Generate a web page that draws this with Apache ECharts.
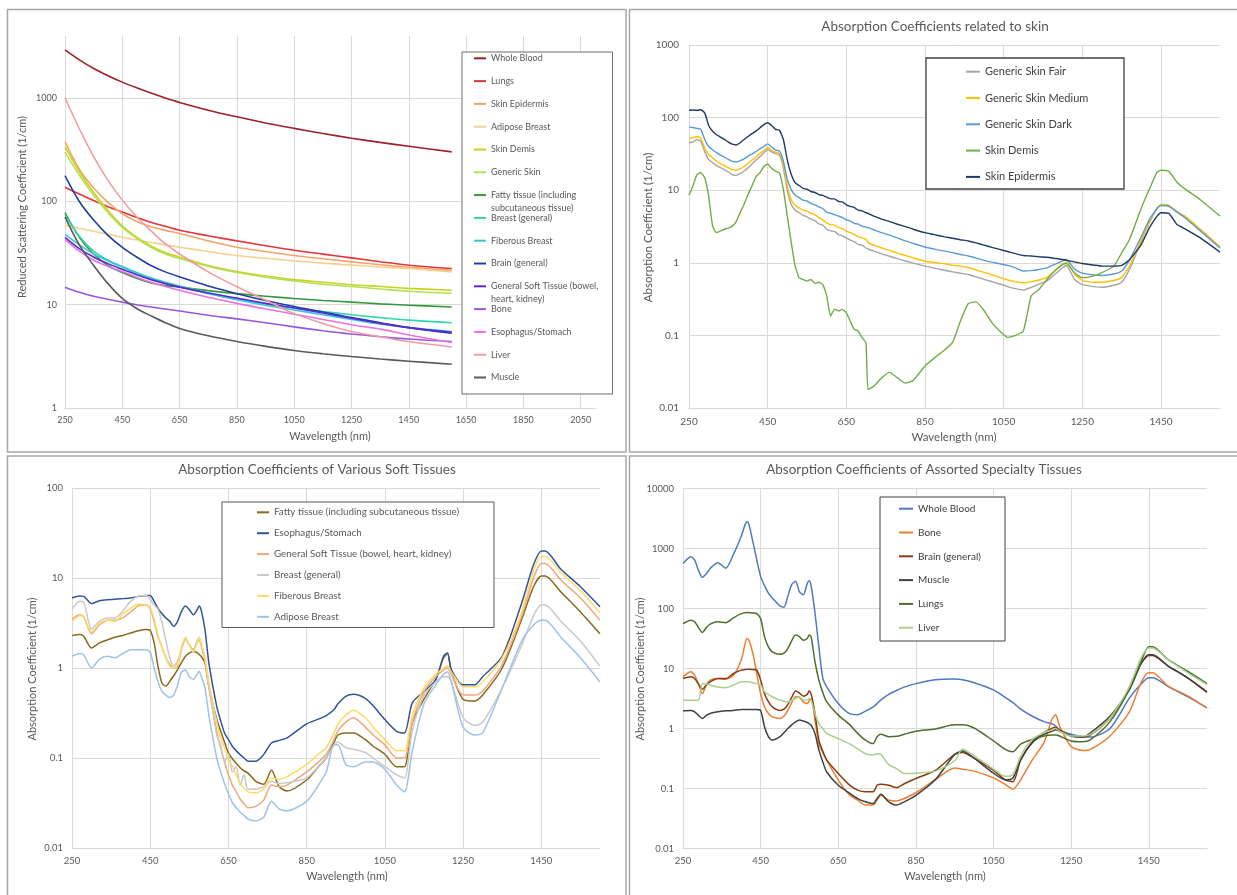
<!DOCTYPE html>
<html>
<head>
<meta charset="utf-8">
<script src="https://cdn.jsdelivr.net/npm/echarts@6/dist/echarts.min.js"></script>
<style>
html,body{margin:0;padding:0;background:#fff;}
#chart{width:1237px;height:895px;}
</style>
</head>
<body>
<div id="chart"></div>
<script>
// ---------------- Panel 1: Reduced scattering coefficients ----------------
const p1Wavelengths = [250,300,350,400,450,500,550,600,650,750,850,950,1050,1150,1250,1350,1450,1600];
const p1WholeBlood   = [2930,2350,1940,1650,1430,1260,1120,1005,910,765,660,576,510,455,410,373,342,302];
const p1Lungs        = [137,118,102,89,79,70,63,57.5,52.7,46.5,41.5,37.3,33.7,30.9,28.4,26.1,24.1,22.4];
const p1SkinEpidermis= [380,205,135,98,76,64,57,52.5,49,41.5,36,32.8,30,27.9,26,24.4,23,21.5];
const p1AdiposeBreast= [59,55,51.5,48,45,42.5,40,38,36,32.8,30,28.2,26.6,25.3,24.2,23.2,22.4,20.8];
const p1SkinDemis    = [340,195,122,82,58,45,37,32,29,24,21,19,17.5,16.5,15.6,15,14.4,13.8];
const p1GenericSkin  = [300,180,115,78,56,44,36,31,28,23.5,20.5,18.5,17,15.8,15,14.2,13.5,12.9];
const p1Fatty        = [78,45,31,24,20.5,18,16.2,15.3,14.8,13.7,12.8,12.1,11.5,11,10.6,10.2,9.9,9.5];
const p1Breast       = [74,46,33,27,23.5,20.5,18.2,16.5,15.2,13,11.4,10.2,9.3,8.6,8,7.5,7.1,6.7];
const p1Fiberous     = [48,38,31,26.5,23,20.2,18,16.3,15,12.8,11.2,9.9,8.9,8,7.2,6.5,6,5.5];
const p1Brain        = [178,100,66,47,36,29,24,20.8,18.6,15.2,12.8,11,9.6,8.5,7.5,6.7,6.0,5.3];
const p1SoftTissue   = [45,35,29,25,22,19.5,17.5,16,14.8,13,11.6,10.3,9.3,8.3,7.4,6.6,6.0,5.4];
const p1Bone         = [14.8,13.2,12.1,11.3,10.6,10,9.5,9.1,8.7,7.9,7.3,6.7,6.1,5.6,5.2,4.9,4.65,4.4];
const p1Esophagus    = [43,33,27,23.5,21,18.5,16.5,15,13.8,11.8,10.3,9.1,8.1,7.2,6.4,5.8,5.1,4.3];
const p1Liver        = [1010,506,272,160,103,71,52,39,31,20.8,14.9,11.1,8.2,6.6,5.5,4.9,4.4,3.9];
const p1Muscle       = [71,38,24,16,11.5,9.2,7.8,6.7,5.9,5.0,4.4,3.95,3.6,3.35,3.15,2.98,2.84,2.65];
const p1Names = ['Whole Blood','Lungs','Skin Epidermis','Adipose Breast','Skin Demis','Generic Skin',
  'Fatty tissue (including subcutaneous tissue)','Breast (general)','Fiberous Breast','Brain (general)',
  'General Soft Tissue (bowel, heart, kidney)','Bone','Esophagus/Stomach','Liver','Muscle'];
const p1Colors = ['#9e1f2e','#e2343c','#f2a56a','#f7d08f','#c8d31e','#b3e055','#35993a','#2fd6ae','#3fc3d5','#1f3ea6','#5a2ad6','#9657e0','#e872df','#f19aa2','#5a5a5a'];
const p1Values = [p1WholeBlood,p1Lungs,p1SkinEpidermis,p1AdiposeBreast,p1SkinDemis,p1GenericSkin,p1Fatty,p1Breast,p1Fiberous,p1Brain,p1SoftTissue,p1Bone,p1Esophagus,p1Liver,p1Muscle];

// ---------------- Panel 2: Absorption related to skin ----------------
const p2Wavelengths = [250,260,270,280,290,300,310,320,330,340,350,360,370,380,390,400,410,420,430,440,450,460,470,480,490,500,510,520,530,540,550,560,570,580,590,600,610,620,630,640,650,660,670,680,690,700,
  705,720,740,760,780,800,820,850,880,900,920,940,960,980,1000,1020,1040,1060,1080,1100,1120,1140,1160,1180,1200,1210,1230,1250,1280,1300,1330,1350,1370,1400,1420,1440,1450,1470,1490,1510,1550,1600];
const p2Fair = [45,46,50,47,34,26.4,24,21.8,20.4,19.2,17.8,16.4,16,16.9,18.4,20.3,23,25.9,29,32.6,36.3,33.6,32,30.4,20.3,9.7,6.35,5.3,4.9,4.5,4.3,4.0,3.8,3.45,3.3,2.9,2.75,2.7,2.45,2.35,2.2,2.05,1.95,1.8,1.75,1.6,
  1.55,1.45,1.33,1.23,1.14,1.06,0.99,0.9,0.83,0.79,0.75,0.72,0.69,0.64,0.59,0.55,0.51,0.47,0.44,0.42,0.46,0.51,0.56,0.69,0.86,0.92,0.59,0.5,0.47,0.46,0.49,0.54,0.81,2.0,3.5,5.6,6.3,6.15,5.1,4.4,2.88,1.64];
const p2Medium = [52,53,55,52,38,31,28,25,23.3,21.8,20.4,19.2,18.8,19.6,21.3,23.3,25.8,28.5,31.8,35,39,35.5,33.5,32,22.5,11.4,7.4,6.15,5.7,5.3,5.15,4.8,4.6,4.2,3.9,3.55,3.35,3.3,3.05,2.95,2.73,2.6,2.45,2.3,2.2,2.1,
  1.9,1.75,1.6,1.48,1.36,1.26,1.17,1.05,1.0,0.97,0.93,0.9,0.86,0.8,0.74,0.68,0.63,0.58,0.55,0.53,0.55,0.58,0.63,0.78,0.95,1.03,0.7,0.57,0.54,0.54,0.57,0.63,0.9,2.1,3.6,5.7,6.35,6.2,5.1,4.4,2.9,1.66];
const p2Dark = [74,73,71,69,50,40,36,33,30.5,28.5,26.5,25,24.5,25.5,27,29.5,31.5,34,37,40,43.5,39.5,36,34.5,25,14,10.2,8.5,7.9,7.3,7.1,6.6,6.3,5.9,5.6,5.0,4.8,4.6,4.4,4.2,3.9,3.75,3.5,3.4,3.2,3.1,
  3.05,2.85,2.6,2.4,2.2,2.0,1.85,1.65,1.52,1.45,1.38,1.3,1.24,1.16,1.08,1.02,0.97,0.92,0.85,0.77,0.78,0.81,0.85,0.95,1.06,1.11,0.82,0.72,0.68,0.67,0.7,0.77,1.1,2.3,3.9,5.6,6.15,6.0,5.0,4.2,2.75,1.6];
const p2Demis = [8.5,11.4,16.4,17.5,14.8,8.3,3.2,2.6,2.75,2.9,3.0,3.2,3.7,4.9,6.4,8.7,11.4,15.3,17.3,21,23,20,18.3,17.3,10.2,4.4,1.9,0.9,0.62,0.59,0.56,0.59,0.52,0.54,0.5,0.35,0.185,0.23,0.217,0.228,0.205,0.157,0.121,0.115,0.093,0.079,
  0.018,0.02,0.026,0.031,0.026,0.022,0.024,0.038,0.052,0.063,0.08,0.157,0.275,0.29,0.22,0.15,0.115,0.094,0.1,0.115,0.35,0.43,0.59,0.77,0.95,0.98,0.73,0.62,0.66,0.73,0.9,1.37,2.1,5.7,10.2,17.7,18.8,18.2,13,10.5,7.4,4.4];
const p2Epidermis = [126,127,126,128,116,78,65,58,54,50,46,43,42,45,50,55,60,65,72,80,85,78,69,67,50,26,16.5,12.6,11.6,10.6,10.3,9.6,9.3,8.7,8.5,8.0,7.6,7.6,7.0,6.9,6.3,6.0,5.8,5.3,5.2,4.9,
  4.8,4.4,4.0,3.7,3.4,3.15,2.9,2.6,2.4,2.28,2.18,2.08,2.0,1.88,1.75,1.63,1.53,1.43,1.34,1.26,1.24,1.21,1.19,1.15,1.11,1.08,1.03,0.98,0.93,0.90,0.90,0.92,1.1,1.8,3.0,4.4,4.9,4.8,3.4,2.95,2.2,1.4];
const p2Names = ['Generic Skin Fair','Generic Skin Medium','Generic Skin Dark','Skin Demis','Skin Epidermis'];
const p2Colors = ['#a5a5a5','#ffc000','#5b9bd5','#70ad47','#203864'];
const p2Values = [p2Fair,p2Medium,p2Dark,p2Demis,p2Epidermis];

// ---------------- Panel 3: Various soft tissues ----------------
const p3Wavelengths = [250,270,280,300,320,340,360,380,400,420,440,450,460,470,480,490,500,510,520,530,540,550,560,570,575,580,590,600,620,630,640,650,660,670,680,690,700,720,740,760,
  780,800,850,880,900,920,930,950,970,1000,1020,1050,1080,1100,1120,1150,1180,1200,1210,1220,1250,1280,1300,1350,1400,1430,1450,1460,1500,1550,1600];
const p3Fatty = [2.29,2.35,2.25,1.67,1.9,2.05,2.2,2.3,2.45,2.6,2.67,2.62,1.9,1.04,0.68,0.63,0.71,0.82,0.96,1.15,1.35,1.47,1.53,1.48,1.42,1.35,1.14,0.63,0.27,0.2,0.15,0.114,0.098,0.087,0.078,0.072,0.068,0.055,0.051,0.073,
  0.048,0.043,0.057,0.08,0.1,0.15,0.18,0.19,0.19,0.16,0.135,0.11,0.08,0.08,0.25,0.45,0.75,1.3,1.45,0.9,0.45,0.43,0.5,1.0,3.5,8,10.5,10.5,7,4.2,2.4];
const p3Esophagus = [6.0,6.3,6.25,5.2,5.6,5.75,5.8,5.9,6.0,6.25,6.4,6.4,5.5,4.6,4.0,3.6,3.3,2.9,3.3,4.26,4.9,4.45,3.9,4.45,4.9,4.45,2.67,1.13,0.375,0.26,0.19,0.16,0.135,0.12,0.109,0.1,0.092,0.092,0.109,0.147,
  0.157,0.167,0.24,0.27,0.295,0.345,0.4,0.485,0.51,0.46,0.38,0.267,0.198,0.19,0.41,0.55,0.74,1.35,1.47,0.96,0.65,0.65,0.8,1.35,5.3,14,20,20,12.5,8,4.8];
const p3SoftTissue = [3.5,3.9,3.7,2.4,3.0,3.4,3.4,3.6,4.2,4.9,5.0,4.5,3.3,2.2,1.7,1.3,1.1,1.0,1.05,1.6,2.1,1.8,1.6,1.9,2.1,1.8,1.2,0.6,0.2,0.13,0.09,0.065,0.05,0.042,0.035,0.031,0.028,0.029,0.034,0.05,
  0.048,0.05,0.07,0.09,0.11,0.16,0.2,0.25,0.28,0.22,0.18,0.14,0.1,0.1,0.25,0.55,0.8,0.95,1.0,0.85,0.5,0.5,0.55,1.1,3.8,10,14.5,14.5,9.5,6,3.4];
const p3Breast = [4.5,5.5,5.4,2.7,3.3,3.6,3.6,4.3,5.5,6.3,6.4,5.8,5.0,4.5,3.2,2.0,1.3,1.05,1.2,1.6,2.1,1.8,1.6,2.0,2.2,1.9,1.3,0.65,0.18,0.14,0.09,0.11,0.07,0.08,0.05,0.065,0.045,0.045,0.048,0.055,
  0.052,0.053,0.06,0.08,0.1,0.14,0.15,0.13,0.125,0.115,0.1,0.08,0.065,0.06,0.2,0.5,0.7,0.8,0.8,0.7,0.28,0.23,0.25,0.6,1.8,3.8,5.0,5.0,3.3,2.0,1.05];
const p3Fiberous = [3.3,3.8,3.7,2.5,3.1,3.4,3.3,4.0,4.6,5.1,5.0,4.7,3.5,2.3,1.7,1.3,1.05,1.0,1.1,1.7,2.2,1.8,1.5,1.9,2.2,1.9,1.3,0.7,0.25,0.17,0.13,0.1,0.08,0.065,0.052,0.046,0.042,0.041,0.045,0.06,
  0.058,0.062,0.085,0.11,0.13,0.19,0.24,0.3,0.34,0.28,0.22,0.16,0.12,0.12,0.3,0.6,0.85,1.0,1.05,0.9,0.62,0.62,0.7,1.3,4.2,12,17.5,17.5,11.5,7.2,4.1];
const p3Adipose = [1.35,1.45,1.4,1.0,1.25,1.35,1.3,1.45,1.6,1.6,1.6,1.5,1.0,0.7,0.55,0.5,0.47,0.5,0.65,0.9,0.95,0.8,0.75,0.85,0.92,0.82,0.6,0.3,0.1,0.07,0.052,0.04,0.032,0.028,0.025,0.023,0.021,0.02,0.022,0.033,
  0.027,0.026,0.033,0.05,0.07,0.14,0.14,0.085,0.08,0.09,0.09,0.075,0.05,0.042,0.12,0.4,0.65,0.85,0.9,0.7,0.22,0.18,0.19,0.6,2.0,3.0,3.4,3.4,2.2,1.3,0.7];
const p3Names = ['Fatty tissue (including subcutaneous tissue)','Esophagus/Stomach','General Soft Tissue (bowel, heart, kidney)','Breast (general)','Fiberous Breast','Adipose Breast'];
const p3Colors = ['#86691c','#2f5597','#f0a77c','#c9c9c9','#ffd966','#9dc3e6'];
const p3Values = [p3Fatty,p3Esophagus,p3SoftTissue,p3Breast,p3Fiberous,p3Adipose];

// ---------------- Panel 4: Assorted specialty tissues ----------------
const p4Wavelengths = [250,270,280,290,300,310,320,340,360,380,400,410,415,420,430,440,450,460,470,480,500,510,520,530,540,550,560,570,575,580,
  590,600,610,620,650,680,700,720,740,750,760,780,800,820,850,900,950,970,1000,1050,1080,1100,1120,1150,1180,1200,1210,1220,1250,1280,1300,1350,1400,1430,1450,1460,1500,1550,1600];
const p4WholeBlood = [560,730,640,430,330,380,465,580,470,800,1600,2500,2800,2500,1300,650,340,240,180,150,110,105,160,250,285,190,170,260,290,240,
  85,23,7,5.0,2.6,1.75,1.7,1.95,2.3,2.6,3.0,3.7,4.3,4.9,5.6,6.5,6.7,6.5,5.8,4.4,3.3,2.7,2.1,1.6,1.3,1.2,1.1,0.95,0.8,0.73,0.72,1.0,3.2,5.5,7.0,7.0,5.0,3.4,2.2];
const p4Bone = [7.3,8.8,7.7,5.5,3.8,5.3,6.4,6.8,6.6,7.7,13.8,26,31.6,29.6,17.8,8.25,3.8,2.3,1.78,1.56,1.47,1.6,2.0,2.7,3.37,3.3,2.78,2.6,2.9,3.16,
  1.38,0.56,0.4,0.3,0.138,0.077,0.064,0.053,0.053,0.065,0.077,0.064,0.062,0.068,0.085,0.14,0.22,0.21,0.195,0.15,0.117,0.097,0.14,0.3,0.58,1.4,1.7,1.1,0.5,0.43,0.45,0.75,1.9,5.8,8.5,8.5,5.1,3.5,2.2];
const p4Brain = [6.8,7.3,6.8,5.5,4.5,5.3,6.0,6.8,6.8,8.25,9.4,9.6,9.7,9.7,9.6,9.4,6.4,3.8,2.8,2.3,2.0,2.1,2.5,3.3,4.2,3.9,3.45,3.7,4.2,3.8,
  1.78,0.64,0.42,0.3,0.178,0.113,0.094,0.088,0.088,0.113,0.118,0.113,0.104,0.12,0.147,0.2,0.37,0.4,0.32,0.2,0.14,0.13,0.3,0.6,0.85,1.0,1.05,0.95,0.75,0.72,0.78,1.5,4.5,12,16.5,16.5,11,7,4.0];
const p4Muscle = [1.97,2.0,1.9,1.65,1.47,1.65,1.78,1.9,1.97,2.0,2.07,2.07,2.07,2.07,2.07,2.07,2.0,1.07,0.73,0.64,0.73,0.85,1.0,1.15,1.29,1.38,1.33,1.26,1.2,1.14,
  0.83,0.44,0.28,0.19,0.113,0.083,0.068,0.06,0.056,0.068,0.08,0.06,0.053,0.06,0.077,0.14,0.37,0.42,0.32,0.18,0.14,0.15,0.3,0.58,0.8,0.9,0.95,0.9,0.75,0.72,0.85,1.6,4.5,12,17,17,11,7,4.1];
const p4Lungs = [56,64,60,48,40,48,55,60,58,70,82,85,86,85,84,82,68,34,23,19,17.3,18,21.5,29,36,34,29.5,31.6,36,34,
  13,6.4,4.0,2.8,1.67,1.15,0.83,0.64,0.56,0.73,0.8,0.73,0.74,0.8,0.9,0.98,1.15,1.15,1.02,0.62,0.45,0.41,0.55,0.66,0.75,0.78,0.78,0.75,0.62,0.6,0.65,1.3,4.5,13,23,23,14,9,5.6];
const p4Liver = [2.97,2.97,2.97,2.97,5.6,5.5,5.3,4.9,4.8,5.3,6.0,6.0,6.0,6.0,5.8,5.6,5.3,4.1,3.7,3.37,2.97,2.85,2.78,2.95,3.16,3.37,2.97,3.0,3.16,2.97,
  1.78,1.21,1.0,0.83,0.68,0.55,0.46,0.38,0.36,0.38,0.37,0.25,0.215,0.178,0.18,0.195,0.29,0.45,0.35,0.21,0.16,0.17,0.35,0.66,0.85,0.95,1.0,0.9,0.75,0.75,0.8,1.5,5.0,15,22,22,14,8.5,5.4];
const p4Names = ['Whole Blood','Bone','Brain (general)','Muscle','Lungs','Liver'];
const p4Colors = ['#4f78c4','#ed7d31','#8a3b12','#404040','#4f6d2c','#a9d18e'];
const p4Values = [p4WholeBlood,p4Bone,p4Brain,p4Muscle,p4Lungs,p4Liver];

// ---------------- Tick labels / axis texts ----------------
const xTickStart = 250, xTickStep = 200;
const titles = ['Absorption Coefficients related to skin','Absorption Coefficients of Various Soft Tissues','Absorption Coefficients of Assorted Specialty Tissues'];
const yNames = ['Reduced Scattering Coefficient (1/cm)','Absorption Coefficient (1/cm)','Absorption Coefficient (1/cm)','Absorption Coefficient (1/cm)'];
const xName = 'Wavelength (nm)';

// ---------------- Build ----------------
const FONT = 'Lato, "Liberation Sans", sans-serif';
const GRID = '#d9d9d9';
const TXT = '#595959';
const SUFFIX = ['', '\u200b', '\u200b\u200b', '\u200b\u200b\u200b'];
const clean = s => s.replace(/\u200b/g, '');

function xAxisFor(gi, max, fs, margin) {
  return {type:'value', gridIndex:gi, min:xTickStart, max:max, interval:xTickStep,
    axisLine:{show:true, lineStyle:{color:GRID, width:1}}, axisTick:{show:false},
    axisLabel:{color:TXT, fontSize:fs, fontFamily:FONT, margin:margin, showMaxLabel:false, formatter:v=>String(v)},
    splitLine:{show:true, showMaxLine:false, lineStyle:{color:GRID, width:1}}};
}
function yAxisFor(gi, min, max, fs, margin, showMax) {
  return {type:'log', logBase:10, gridIndex:gi, min:min, max:max,
    axisLine:{show:false}, axisTick:{show:false},
    axisLabel:{color:TXT, fontSize:fs, fontFamily:FONT, margin:margin, showMaxLabel:showMax, formatter:v=>String(parseFloat(Number(v).toPrecision(6)))},
    splitLine:{show:true, showMaxLine:showMax, lineStyle:{color:GRID, width:1}}};
}
function buildSeries(panel, xs, names, values, colors, smooth, width) {
  return names.map((n, i) => ({
    type:'line', name:n + SUFFIX[panel], xAxisIndex:panel, yAxisIndex:panel,
    data: xs.map((x, j) => [x, values[i][j]]),
    symbol:'none', showSymbol:false, smooth:smooth,
    lineStyle:{color:colors[i], width:width}, itemStyle:{color:colors[i]},
    emphasis:{disabled:true}, silent:true, z:2
  }));
}
function legendFor(panel, names, left, top, gap, iw, fs, lh, color, fmt) {
  return {data: names.map(n => n + SUFFIX[panel]), orient:'vertical', left:left, top:top, padding:0,
    itemGap:gap, itemWidth:iw, itemHeight:2, icon:'rect', selectedMode:false,
    textStyle:{fontSize:fs, lineHeight:lh, color:color, fontFamily:FONT},
    formatter: fmt || (n => clean(n))};
}
function txt(text, x, y, fs, color, rot, align) {
  return {type:'text', x:x, y:y, rotation:rot||0, z:10, silent:true,
    style:{text:text, fill:color, fontSize:fs, fontFamily:FONT, align:align||'center', verticalAlign:'middle'}};
}
function frame(x, y, w, h, stroke, lw, fill, z) {
  return {type:'rect', shape:{x:x, y:y, width:w, height:h}, z:z, silent:true,
    style:{fill:fill||'none', stroke:stroke, lineWidth:lw}};
}

const p1First = {'Fatty tissue (including subcutaneous tissue)':'Fatty tissue (including',
                 'General Soft Tissue (bowel, heart, kidney)':'General Soft Tissue (bowel,'};

const option = {
  animation:false,
  backgroundColor:'#ffffff',
  grid:[
    {left:65, top:36, width:530, height:372},
    {left:689, top:45, width:531, height:363},
    {left:72, top:488, width:528, height:360},
    {left:683, top:488.5, width:524, height:360}
  ],
  xAxis:[ xAxisFor(0, 2100, 9, 8), xAxisFor(1, 1600, 10, 9), xAxisFor(2, 1600, 9.5, 8), xAxisFor(3, 1600, 9.5, 7) ],
  yAxis:[ yAxisFor(0, 1, 4000, 9, 8, false), yAxisFor(1, 0.01, 1000, 10, 10, true), yAxisFor(2, 0.01, 100, 9.5, 9, true), yAxisFor(3, 0.01, 10000, 9.5, 9, true) ],
  legend:[
    legendFor(0, p1Names, 474, 52.3, 10.8, 12, 9, 12, TXT, n => p1First[n] || clean(n)),
    legendFor(1, p2Names, 966, 65.2, 13.3, 14, 11, 13, '#404040'),
    legendFor(2, p3Names, 257, 506.3, 8.9, 12, 9.8, 12, TXT),
    legendFor(3, p4Names, 899, 502.7, 11.8, 14, 10, 12, '#404040')
  ],
  series:[].concat(
    buildSeries(0, p1Wavelengths, p1Names, p1Values, p1Colors, 0.35, 1.6),
    buildSeries(1, p2Wavelengths, p2Names, p2Values, p2Colors, 0.15, 1.4),
    buildSeries(2, p3Wavelengths, p3Names, p3Values, p3Colors, 0.25, 1.5),
    buildSeries(3, p4Wavelengths, p4Names, p4Values, p4Colors, 0.25, 1.5)
  ),
  graphic:{elements:[
    frame(7.5, 9.5, 618.5, 442.5, '#a6a6a6', 1.5, 'none', 1),
    frame(629.5, 9.5, 612, 442.5, '#a6a6a6', 1.5, 'none', 1),
    frame(7.5, 456, 618.5, 445, '#a6a6a6', 1.5, 'none', 1),
    frame(629.5, 456, 612, 445, '#a6a6a6', 1.5, 'none', 1),
    frame(462, 52, 150.5, 342, '#6d6d6d', 1, '#ffffff', 3),
    frame(926, 58, 198, 131, '#404040', 1.3, '#ffffff', 3),
    frame(222, 502, 272, 125.5, '#595959', 1, '#ffffff', 3),
    frame(880, 497, 125, 144, '#404040', 1, '#ffffff', 3),
    txt('subcutaneous tissue)', 491, 207.7, 9, TXT, 0, 'left'),
    txt('heart, kidney)', 491, 299, 9, TXT, 0, 'left'),
    txt(titles[0], 935, 27, 13.5, TXT),
    txt(titles[1], 317, 470, 13.5, TXT),
    txt(titles[2], 924, 470, 13.5, TXT),
    txt(yNames[0], 22, 207, 11, TXT, Math.PI/2),
    txt(yNames[1], 648, 227.5, 11.5, TXT, Math.PI/2),
    txt(yNames[2], 32, 669, 11, TXT, Math.PI/2),
    txt(yNames[3], 640, 669, 11, TXT, Math.PI/2),
    txt(xName, 330, 436, 11, TXT),
    txt(xName, 954, 437, 11.5, TXT),
    txt(xName, 347, 876, 11, TXT),
    txt(xName, 945, 876, 11, TXT)
  ]}
};

const chart = echarts.init(document.getElementById('chart'), null, {renderer:'canvas'});
chart.setOption(option);
</script>
</body>
</html>
